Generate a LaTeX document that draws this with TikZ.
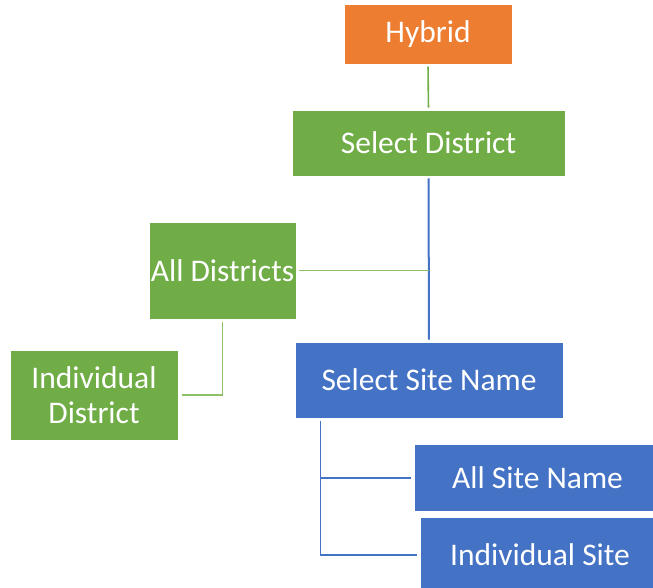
\documentclass[tikz,border=0pt]{standalone}
\usepackage{fontspec}
\setmainfont{Carlito}
\definecolor{orng}{HTML}{ED7D31}
\definecolor{grn}{HTML}{70AD47}
\definecolor{lgrn}{HTML}{8CC168}
\definecolor{blu}{HTML}{4472C4}
\begin{document}
\begin{tikzpicture}[x=1pt,y=-1pt,
  box/.style={rectangle, draw=white, line width=0.8pt, text=white, align=center,
    inner sep=0pt, font=\fontsize{31.5}{35}\selectfont},
  gline/.style={draw=grn, line width=1.6pt},
  lgline/.style={draw=lgrn, line width=1.3pt},
  bline/.style={draw=blu, line width=1.4pt}]
\useasboundingbox (0,0) rectangle (653,588);
\clip (0,0) rectangle (653,588);
\node[box, fill=orng, minimum width=168pt, minimum height=60pt] (hyb) at (428,34.3) {Hybrid};
\node[box, fill=grn, minimum width=273pt, minimum height=66pt] (sd) at (428.5,143) {Select District};
\node[box, fill=grn, minimum width=147pt, minimum height=97pt] (ad) at (222.5,270.5) {All Districts};
\node[box, fill=grn, minimum width=168pt, minimum height=90pt] (id) at (94,395) {Individual\\District};
\node[box, fill=blu, minimum width=268pt, minimum height=76pt] (ssn) at (429,380) {Select Site Name};
\node[box, fill=blu, minimum width=247pt, minimum height=67.5pt] (asn) at (537.5,478) {All Site Name};
\node[box, fill=blu, minimum width=240pt, minimum height=76pt] (isite) at (540,555) {Individual Site};
% connectors
\draw[gline, shorten <=2pt, shorten >=2pt] (hyb.south) -- (sd.north);
\draw[bline, line width=2pt, shorten <=2pt, shorten >=2pt] (sd.south) -- (ssn.north);
\coordinate (jn) at (sd.south |- ad.east);
\draw[lgline, shorten <=3pt] (ad.east) -- (jn);
\draw[lgline, shorten <=3pt, shorten >=3.5pt] (ad.south) |- (id.east);
\coordinate (sb) at ([xshift=26pt]ssn.south west);
\draw[bline, shorten <=2.5pt, shorten >=2.5pt] (sb) |- (isite.west);
\draw[bline, shorten >=2.5pt] (sb |- asn.west) -- (asn.west);
\end{tikzpicture}
\end{document}
